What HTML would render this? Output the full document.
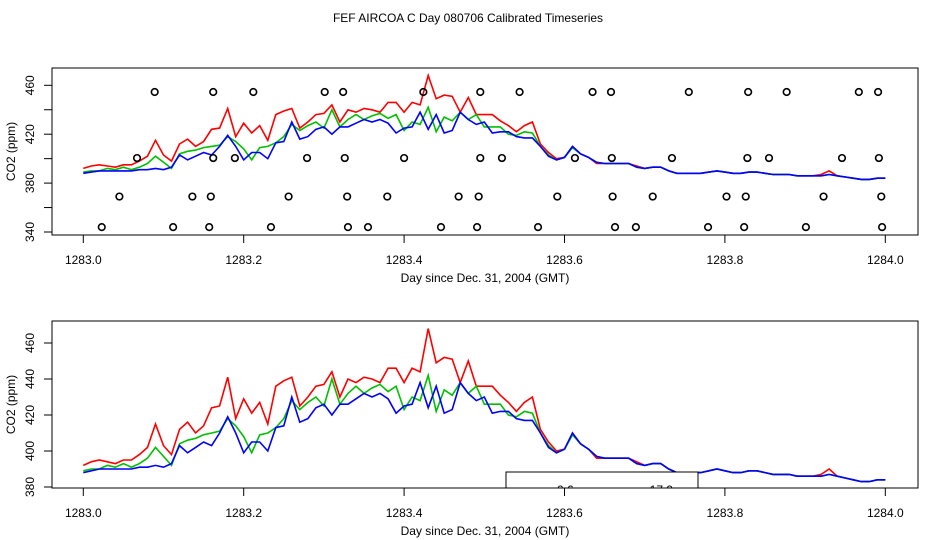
<!DOCTYPE html>
<html><head><meta charset="utf-8"><style>
html,body{margin:0;padding:0;background:#fff;}
svg{display:block;font-family:"Liberation Sans",sans-serif;}
</style></head><body>
<svg id="chart" width="936" height="540" viewBox="0 0 936 540" xmlns="http://www.w3.org/2000/svg">
<text x="468" y="22" font-size="12" text-anchor="middle">FEF AIRCOA C  Day 080706  Calibrated Timeseries</text>
<g id="top"></g>
<g id="bot"></g>
</svg>
<script>
const days = [];
for (let i = 0; i <= 100; i++) days.push(1283 + i / 100);
const redVals = [392,394,395,394,393,395,395,398,402,415,403,398,412,416,410,414,424,425,441,418,429,421,427,415,436,439,441,425,430,436,437,444,430,440,438,441,440,438,446,446,438,446,444,468,449,452,451,438,450,436,436,436,431,427,422,427,430,412,405,400,401,410,404,401,396,396,396,396,396,394,392,393,393,390,388,388,388,388,389,390,389,388,388,389,389,388,387,387,387,386,386,386,387,390,386,385,384,383,383,384,384];
const greenVals = [389,390,390,392,391,393,391,393,396,402,397,392,404,406,407,409,410,411,418,414,408,399,409,410,413,418,428,423,427,430,425,440,426,432,436,432,435,437,433,436,423,430,428,442,422,434,431,438,432,436,426,426,426,420,419,422,421,410,403,399,401,409,404,401,397,396,396,396,396,393,392,393,393,390,388,388,388,388,389,390,389,388,388,389,389,388,387,387,387,386,386,386,386,387,386,385,384,383,383,384,384];
const blueVals = [388,389,390,390,390,390,390,391,391,392,391,393,403,399,402,405,403,410,419,410,399,405,405,400,413,414,430,416,418,424,426,420,426,426,429,432,430,432,429,421,425,426,438,424,436,421,423,438,432,428,430,421,422,422,418,417,417,410,402,399,401,410,404,401,397,396,396,396,396,393,392,393,393,390,388,388,388,388,389,390,389,388,388,389,389,388,387,387,387,386,386,386,386,387,386,385,384,383,383,384,384];
const flagLevels = [454.5, 400.5, 369, 344];
const flagDays454 = [1283.089,1283.162,1283.212,1283.301,1283.324,1283.424,1283.495,1283.544,1283.635,1283.658,1283.755,1283.829,1283.877,1283.967,1283.991];
const flagDays400 = [1283.067,1283.162,1283.189,1283.279,1283.326,1283.400,1283.495,1283.522,1283.613,1283.659,1283.734,1283.828,1283.855,1283.946,1283.992];
const flagDays369 = [1283.045,1283.136,1283.159,1283.256,1283.329,1283.379,1283.468,1283.493,1283.591,1283.660,1283.710,1283.802,1283.826,1283.923,1283.995];
const flagDays344 = [1283.023,1283.112,1283.157,1283.234,1283.330,1283.355,1283.446,1283.491,1283.567,1283.663,1283.689,1283.779,1283.824,1283.901,1283.996];
const xTicks = [1283.0,1283.2,1283.4,1283.6,1283.8,1284.0];
const xTickLabels = ["1283.0","1283.2","1283.4","1283.6","1283.8","1284.0"];
const topYTicks = [340,360,380,400,420,440,460];
const topYTickLabels = ["340","","380","","420","","460"];
const botYTicks = [380,400,420,440,460];
const botYTickLabels = ["380","400","420","440","460"];
const legendLabels = ["0.6 m","17.9 m"];

const NS = "http://www.w3.org/2000/svg";
function mk(tag, attrs, parent) {
  const e = document.createElementNS(NS, tag);
  for (const k in attrs) e.setAttribute(k, attrs[k]);
  parent.appendChild(e);
  return e;
}
const xScale = d => 83.3 + (d - 1283) * 802;

function panel(g, top, bot, yScale, yTicks, yLabels, withFlags, id) {
  const L = 52, R = 918;
  const clip = mk('clipPath', {id: 'clip' + id}, g);
  mk('rect', {x: L, y: top, width: R - L, height: bot - top}, clip);
  const frame = mk('rect', {x: L, y: top, width: R - L, height: bot - top, fill: 'none', stroke: '#000', 'stroke-width': 1}, g);
  
  
  const plot = mk('g', {'clip-path': 'url(#clip' + id + ')'}, g);
  
  
  mk('line', {x1: xScale(xTicks[0]), x2: xScale(xTicks[xTicks.length-1]), y1: bot, y2: bot, stroke: '#000'}, g);
  xTicks.forEach((t, i) => {
    const tk = mk('line', {x1: xScale(t), x2: xScale(t), y1: bot, y2: bot + 8, stroke: '#000'}, g);
    
    
    const tl = mk('text', {x: xScale(t), y: bot + 29, 'font-size': 12, 'text-anchor': 'middle'}, g);
    tl.textContent = xTickLabels[i];
    
    
  });
  const xt = mk('text', {x: 485, y: bot + 47, 'font-size': 12, 'text-anchor': 'middle'}, g);
  xt.textContent = 'Day since Dec. 31, 2004 (GMT)';
  
  
  yTicks.forEach((t, i) => {
    const y = yScale(t);
    const tk = mk('line', {x1: L - 8, x2: L, y1: y, y2: y, stroke: '#000'}, g);
    
    
    if (yLabels[i]) {
      const tl = mk('text', {x: 0, y: 0, 'font-size': 12, 'text-anchor': 'middle', transform: 'translate(34,' + y + ') rotate(-90)'}, g);
      tl.textContent = yLabels[i];
      
      
    }
  });
  const yt = mk('text', {x: 0, y: 0, 'font-size': 12, 'text-anchor': 'middle', transform: 'translate(15,' + ((top + bot) / 2) + ') rotate(-90)'}, g);
  yt.textContent = 'CO2 (ppm)';
  
  
  [[redVals, '#ff0000', 'series-red'], [greenVals, '#00c000', 'series-green'], [blueVals, '#0000ff', 'series-blue']].forEach(s => {
    const pts = s[0].map((v, i) => xScale(days[i]).toFixed(1) + ',' + yScale(v).toFixed(1)).join(' ');
    const pl = mk('polyline', {points: pts, fill: 'none', stroke: s[1], 'stroke-width': 1.6}, plot);
    
    
  });
  if (withFlags) {
    [flagDays454, flagDays400, flagDays369, flagDays344].forEach((arr, li) => {
      arr.forEach(d => {
        const c = mk('circle', {cx: xScale(d), cy: yScale(flagLevels[li]), r: 3.3, fill: 'none', stroke: '#000', 'stroke-width': 1.6}, plot);
        
        
      });
    });
  } else {
    const lg = mk('g', {}, plot);
    
    
    mk('rect', {x: 506, y: 472, width: 192, height: 30, fill: '#fff', stroke: '#000'}, lg);
    [[572, legendLabels[0]], [668, legendLabels[1]]].forEach(p => {
      const t = mk('text', {x: p[0], y: 494, 'font-size': 12, 'text-anchor': 'middle'}, lg);
      t.textContent = p[1];
      
      
    });
  }
}
panel(document.getElementById('top'), 68, 235, v => 232 - (v - 340) * 1.2225, topYTicks, topYTickLabels, true, 'a');
panel(document.getElementById('bot'), 321, 488, v => 343 + (460 - v) * 1.8, botYTicks, botYTickLabels, false, 'b');
</script>
</body></html>
